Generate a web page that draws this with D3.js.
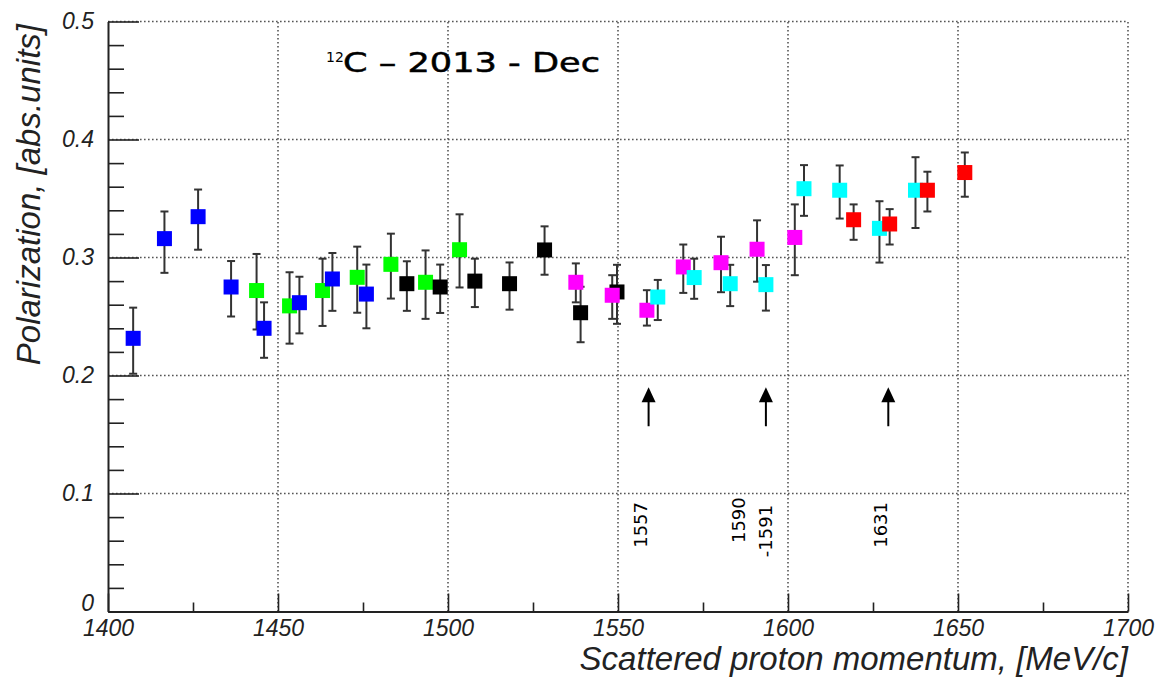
<!DOCTYPE html>
<html>
<head>
<meta charset="utf-8">
<script src="https://cdn.jsdelivr.net/npm/d3@7"></script>
<style>
  body { margin: 0; background: #fff; }
  svg { display: block; }
</style>
</head>
<body>
<svg id="chart"></svg>
<script>
// data: momentum [MeV/c], polarization, error up / down
const blueX = [1407.4, 1416.6, 1426.5, 1436.2, 1445.9, 1456.3, 1466.0, 1476.0]
const blueY = [0.2315, 0.316, 0.3346, 0.275, 0.240, 0.2617, 0.2818, 0.269]
const blueUp = [0.026, 0.023, 0.023, 0.022, 0.022, 0.022, 0.022, 0.025]
const blueDn = [0.030, 0.029, 0.028, 0.025, 0.025, 0.026, 0.027, 0.029]

const greenX = [1443.7, 1453.4, 1463.1, 1473.3, 1483.2, 1493.4, 1503.4]
const greenY = [0.272, 0.259, 0.272, 0.2832, 0.2942, 0.279, 0.3066]
const greenUp = [0.031, 0.0285, 0.027, 0.026, 0.026, 0.027, 0.030]
const greenDn = [0.033, 0.032, 0.030, 0.030, 0.029, 0.031, 0.032]

const blackX = [1487.9, 1497.7, 1507.9, 1518.1, 1528.4, 1539.0, 1549.7]
const blackY = [0.2778, 0.275, 0.280, 0.2778, 0.3064, 0.2532, 0.2708]
const blackUp = [0.019, 0.019, 0.019, 0.018, 0.020, 0.022, 0.023]
const blackDn = [0.023, 0.022, 0.022, 0.022, 0.021, 0.025, 0.027]

const magentaX = [1537.6, 1548.3, 1558.5, 1569.2, 1580.3, 1590.9, 1602.0]
const magentaY = [0.279, 0.268, 0.2553, 0.292, 0.2956, 0.307, 0.317]
const magentaUp = [0.016, 0.017, 0.017, 0.019, 0.022, 0.0245, 0.028]
const magentaDn = [0.017, 0.020, 0.013, 0.022, 0.025, 0.0275, 0.032]

const cyanX = [1561.7, 1572.4, 1583.0, 1593.5, 1604.7, 1615.2, 1626.9, 1637.5]
const cyanY = [0.2665, 0.283, 0.2778, 0.277, 0.3583, 0.357, 0.3247, 0.357]
const cyanUp = [0.0145, 0.016, 0.016, 0.0166, 0.020, 0.021, 0.023, 0.028]
const cyanDn = [0.0195, 0.018, 0.019, 0.022, 0.023, 0.024, 0.029, 0.032]

const redX = [1619.3, 1629.9, 1641.0, 1652.0]
const redY = [0.332, 0.3284, 0.357, 0.372]
const redUp = [0.013, 0.0126, 0.0157, 0.017]
const redDn = [0.017, 0.0174, 0.018, 0.0205]

const xTicks = [1400, 1450, 1500, 1550, 1600, 1650, 1700]
const xMinor = [1425, 1475, 1525, 1575, 1625, 1675]
const yTicks = [0, 0.1, 0.2, 0.3, 0.4, 0.5]
const yMinor = [0.02, 0.04, 0.06, 0.08, 0.12, 0.14, 0.16, 0.18, 0.22, 0.24, 0.26, 0.28,
                0.32, 0.34, 0.36, 0.38, 0.42, 0.44, 0.46, 0.48]

// arrows and rotated momentum notes
const arrowX = [1559, 1593.5, 1629.5]
const arrowTip = 0.190
const arrowBase = 0.157
const noteText = ["1557", "1590", "-1591", "1631"]
const noteX = [1556.6, 1585.4, 1593.3, 1627.2]
const noteY = [0.054, 0.058, 0.046, 0.054]

const titleSup = "12"
const titleMain = "C \u2013 2013 - Dec"
const xTitle = "Scattered proton momentum, [MeV/c]"
const yTitle = "Polarization, [abs.units]"

const W = 1161, H = 681
const series = [
  {x: greenX, y: greenY, up: greenUp, dn: greenDn, color: "#00ff00"},
  {x: blueX, y: blueY, up: blueUp, dn: blueDn, color: "#0000ff"},
  {x: blackX, y: blackY, up: blackUp, dn: blackDn, color: "#000000"},
  {x: magentaX, y: magentaY, up: magentaUp, dn: magentaDn, color: "#ff00ff"},
  {x: cyanX, y: cyanY, up: cyanUp, dn: cyanDn, color: "#00ffff"},
  {x: redX, y: redY, up: redUp, dn: redDn, color: "#ff0000"}
]
const points = series.flatMap(s => s.x.map((v, i) => ({
  x: v, y: s.y[i], hi: s.y[i] + s.up[i], lo: s.y[i] - s.dn[i], color: s.color
})))

const x = d3.scaleLinear().domain([1400, 1700]).range([108, 1128])
const y = d3.scaleLinear().domain([0, 0.5]).range([611.5, 21.5])

const svg = d3.select("#chart").attr("width", W).attr("height", H)
const font = "'Liberation Sans', Arial, sans-serif"

// dotted grid (also forms top and right frame)
const grid = svg.append("g").attr("stroke", "#555").attr("stroke-width", 1.6)
  .attr("stroke-dasharray", "1.6,2.4")
grid.selectAll(".gx").data(xTicks.slice(1)).join("line")
  .attr("x1", d => x(d)).attr("x2", d => x(d))
  .attr("y1", y(0)).attr("y2", y(0.5))
grid.selectAll(".gy").data(yTicks.slice(1)).join("line")
  .attr("x1", x(1400)).attr("x2", x(1700))
  .attr("y1", d => y(d)).attr("y2", d => y(d))

// axes
svg.append("g").attr("transform", `translate(0,${y(0)})`)
  .call(d3.axisBottom(x).tickValues(xTicks).tickSize(-18).tickSizeOuter(0).tickPadding(8)
    .tickFormat(d3.format("d")))
svg.append("g").attr("transform", `translate(0,${y(0)})`)
  .call(d3.axisBottom(x).tickValues(xMinor).tickSize(-9).tickSizeOuter(0).tickFormat(""))
  .select(".domain").remove()
const yAxis = svg.append("g").attr("transform", `translate(${x(1400)},0)`)
  .call(d3.axisLeft(y).tickValues(yTicks).tickSize(-31).tickSizeOuter(0).tickPadding(14)
    .tickFormat(d => d === 0 ? "0" : d3.format(".1f")(d)))
svg.append("g").attr("transform", `translate(${x(1400)},0)`)
  .call(d3.axisLeft(y).tickValues(yMinor).tickSize(-16).tickSizeOuter(0).tickFormat(""))
  .select(".domain").remove()

svg.selectAll(".tick line").attr("stroke", "#222").attr("stroke-width", 1.6)
svg.selectAll(".domain").attr("stroke", "#222").attr("stroke-width", 2)
svg.selectAll(".tick text").attr("font-family", font).attr("font-style", "italic")
  .attr("font-size", 23).attr("fill", "#222")
yAxis.selectAll(".tick text").filter(d => d === 0).attr("dy", "-0.05em")

// axis titles
svg.append("text").attr("x", x(1700)).attr("y", 670).attr("text-anchor", "end")
  .attr("font-family", font).attr("font-style", "italic").attr("font-size", 33)
  .attr("fill", "#222").text(xTitle)
svg.append("text").attr("transform", "translate(40,24) rotate(-90)").attr("text-anchor", "end")
  .attr("font-family", font).attr("font-style", "italic").attr("font-size", 33)
  .attr("fill", "#222").text(yTitle)

// error bars
const bars = svg.append("g").attr("stroke", "#333").attr("stroke-width", 2)
bars.selectAll(".eb").data(points).join("line")
  .attr("x1", d => x(d.x)).attr("x2", d => x(d.x))
  .attr("y1", d => y(d.hi)).attr("y2", d => y(d.lo))
bars.selectAll(".ct").data(points).join("line")
  .attr("x1", d => x(d.x) - 4).attr("x2", d => x(d.x) + 4)
  .attr("y1", d => y(d.hi)).attr("y2", d => y(d.hi))
bars.selectAll(".cb").data(points).join("line")
  .attr("x1", d => x(d.x) - 4).attr("x2", d => x(d.x) + 4)
  .attr("y1", d => y(d.lo)).attr("y2", d => y(d.lo))

// square markers
svg.append("g").selectAll("rect").data(points).join("rect")
  .attr("x", d => x(d.x) - 7.5).attr("y", d => y(d.y) - 7.5)
  .attr("width", 15).attr("height", 15)
  .attr("fill", d => d.color)

// arrows
const arr = svg.append("g")
arr.selectAll("line").data(arrowX).join("line")
  .attr("x1", d => x(d)).attr("x2", d => x(d))
  .attr("y1", y(arrowBase)).attr("y2", y(arrowTip) + 8)
  .attr("stroke", "#000").attr("stroke-width", 2)
arr.selectAll("path").data(arrowX).join("path")
  .attr("d", d => `M${x(d)},${y(arrowTip)} L${x(d) - 7},${y(arrowTip) + 15} L${x(d) + 7},${y(arrowTip) + 15} Z`)
  .attr("fill", "#000")

// rotated notes
svg.append("g").selectAll("text").data(noteText).join("text")
  .attr("transform", (d, i) => `translate(${x(noteX[i])},${y(noteY[i])}) rotate(-90)`)
  .attr("dy", "0.35em")
  .attr("font-family", "'DejaVu Sans', sans-serif").attr("font-size", 18)
  .attr("fill", "#000").text(d => d)

// title
const titleFont = "'Comic Sans MS', 'DejaVu Sans', sans-serif"
svg.append("text").attr("x", 326).attr("y", 62)
  .attr("font-family", titleFont).attr("font-size", 14).attr("fill", "#000").text(titleSup)
svg.append("text").attr("x", 343).attr("y", 72)
  .attr("font-family", titleFont).attr("font-size", 27)
  .attr("textLength", 257).attr("lengthAdjust", "spacingAndGlyphs")
  .attr("fill", "#000").attr("stroke", "#000").attr("stroke-width", 0.5)
  .text(titleMain)
</script>
</body>
</html>
